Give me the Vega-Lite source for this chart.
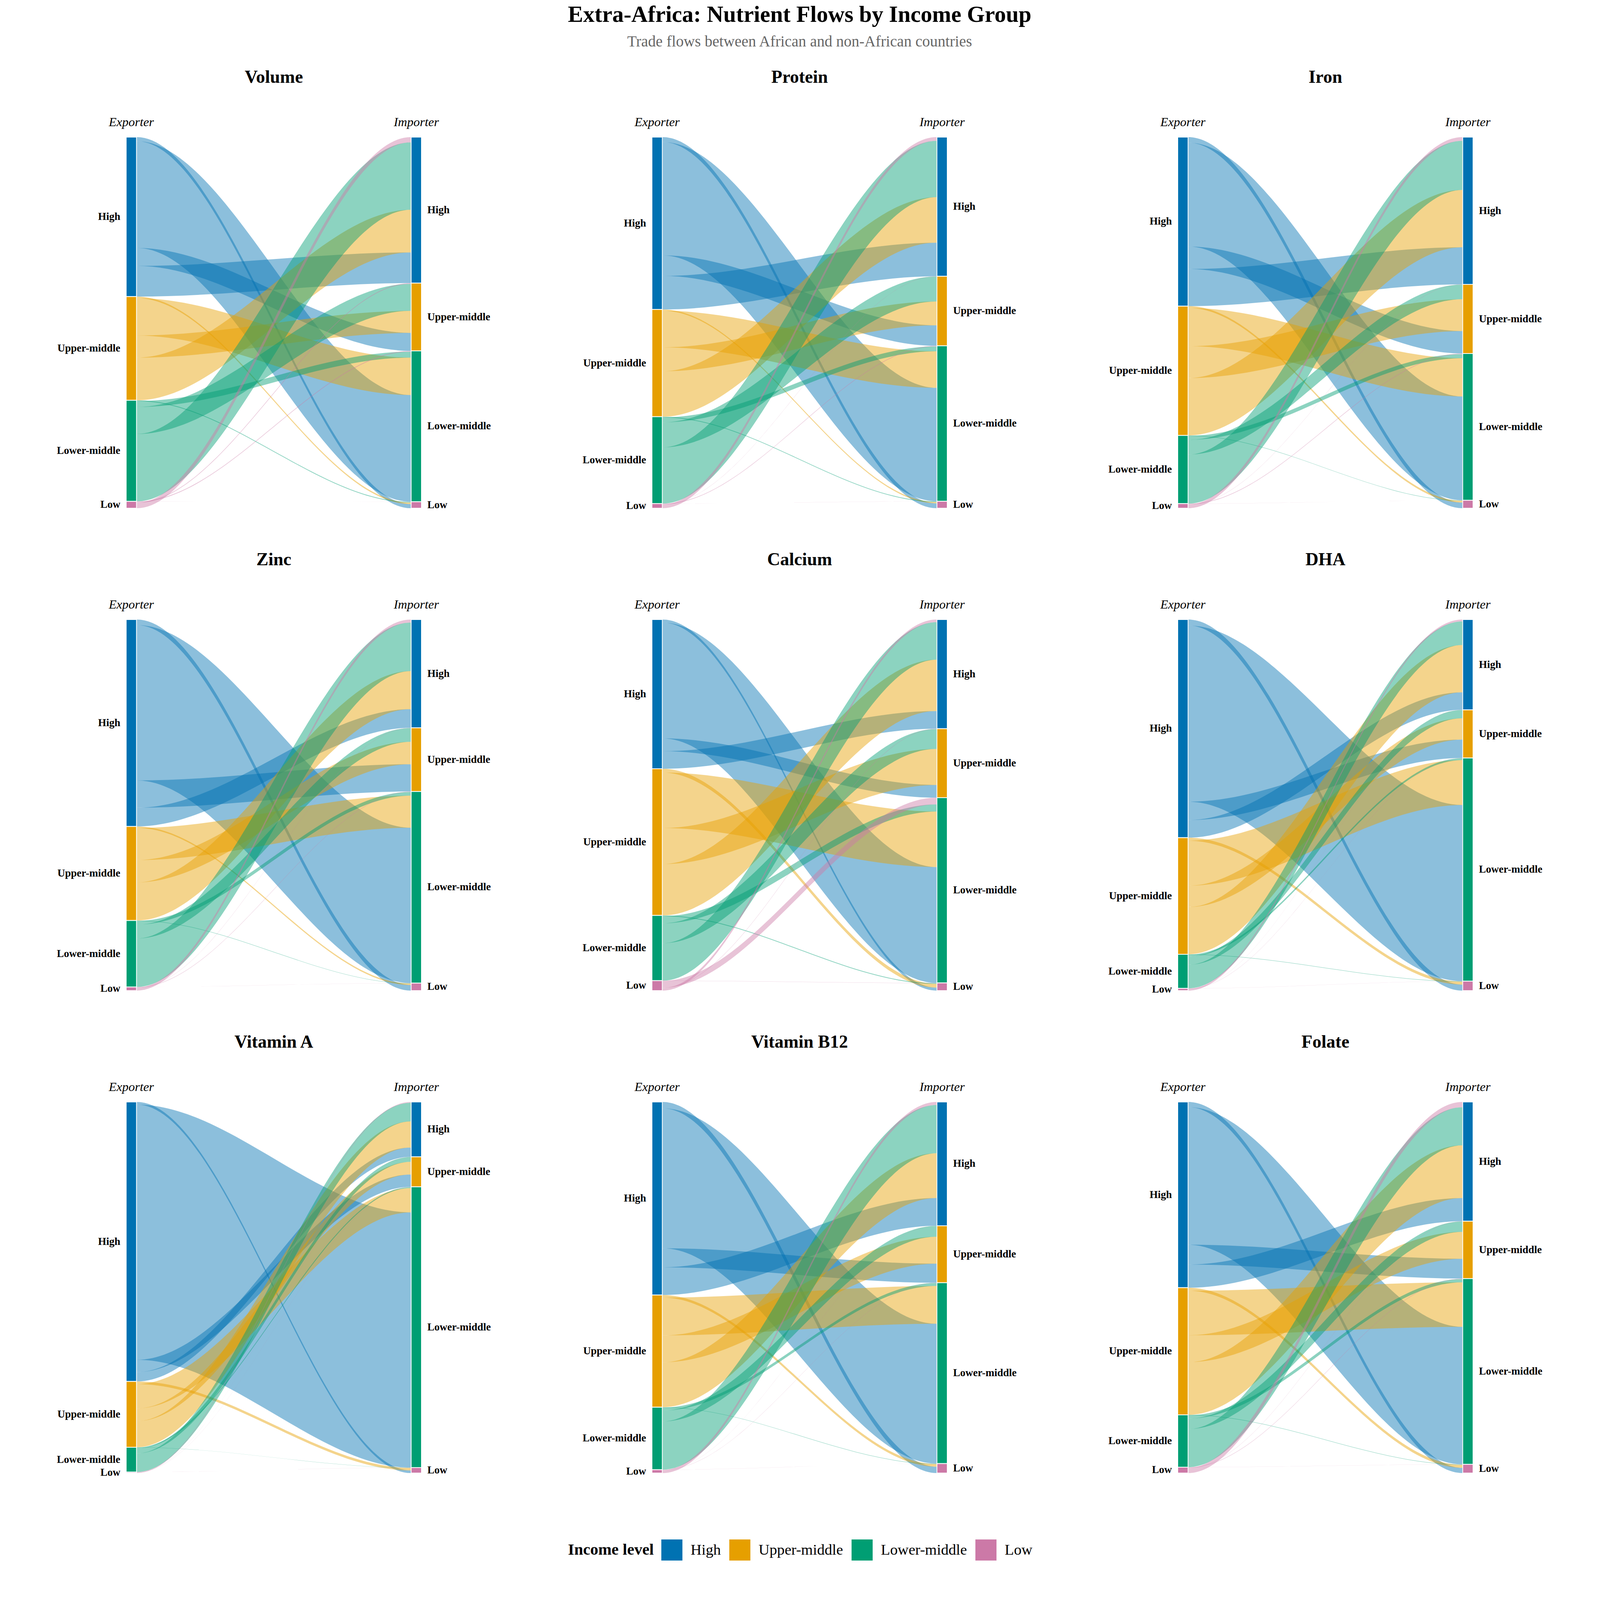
{
  "$schema": "https://vega.github.io/schema/vega-lite/v6.json",
  "description": "Extra-Africa nutrient flows by income group, alluvial panels",
  "padding": {"left": 145, "top": 9, "right": 20, "bottom": 20},
  "title": {
    "text": "Extra-Africa: Nutrient Flows by Income Group",
    "subtitle": "Trade flows between African and non-African countries",
    "anchor": "middle",
    "font": "Liberation Serif",
    "fontSize": 58.5,
    "fontWeight": "bold",
    "color": "black",
    "subtitleFont": "Liberation Serif",
    "subtitleFontSize": 39.5,
    "subtitleColor": "#666666",
    "subtitlePadding": 19,
    "offset": 48
  },
  "config": {
    "view": {"stroke": null},
    "font": "Liberation Serif"
  },
  "data": {
    "values": [
      {"n": "Volume", "e": "High", "i": "High", "v": 8.2},
      {"n": "Volume", "e": "High", "i": "Upper-middle", "v": 4.8},
      {"n": "Volume", "e": "High", "i": "Lower-middle", "v": 28.5},
      {"n": "Volume", "e": "High", "i": "Low", "v": 1.1},
      {"n": "Volume", "e": "Upper-middle", "i": "High", "v": 11.4},
      {"n": "Volume", "e": "Upper-middle", "i": "Upper-middle", "v": 5.9},
      {"n": "Volume", "e": "Upper-middle", "i": "Lower-middle", "v": 10.0},
      {"n": "Volume", "e": "Upper-middle", "i": "Low", "v": 0.4},
      {"n": "Volume", "e": "Lower-middle", "i": "High", "v": 18.0},
      {"n": "Volume", "e": "Lower-middle", "i": "Upper-middle", "v": 7.2},
      {"n": "Volume", "e": "Lower-middle", "i": "Lower-middle", "v": 1.6},
      {"n": "Volume", "e": "Lower-middle", "i": "Low", "v": 0.2},
      {"n": "Volume", "e": "Low", "i": "High", "v": 1.4},
      {"n": "Volume", "e": "Low", "i": "Upper-middle", "v": 0.2},
      {"n": "Volume", "e": "Low", "i": "Lower-middle", "v": 0.2},
      {"n": "Volume", "e": "Low", "i": "Low", "v": 0.02},

      {"n": "Protein", "e": "High", "i": "High", "v": 9.0},
      {"n": "Protein", "e": "High", "i": "Upper-middle", "v": 5.5},
      {"n": "Protein", "e": "High", "i": "Lower-middle", "v": 30.4},
      {"n": "Protein", "e": "High", "i": "Low", "v": 1.3},
      {"n": "Protein", "e": "Upper-middle", "i": "High", "v": 12.2},
      {"n": "Protein", "e": "Upper-middle", "i": "Upper-middle", "v": 6.4},
      {"n": "Protein", "e": "Upper-middle", "i": "Lower-middle", "v": 9.8},
      {"n": "Protein", "e": "Upper-middle", "i": "Low", "v": 0.35},
      {"n": "Protein", "e": "Lower-middle", "i": "High", "v": 15.1},
      {"n": "Protein", "e": "Lower-middle", "i": "Upper-middle", "v": 6.7},
      {"n": "Protein", "e": "Lower-middle", "i": "Lower-middle", "v": 1.3},
      {"n": "Protein", "e": "Lower-middle", "i": "Low", "v": 0.2},
      {"n": "Protein", "e": "Low", "i": "High", "v": 1.0},
      {"n": "Protein", "e": "Low", "i": "Upper-middle", "v": 0.05},
      {"n": "Protein", "e": "Low", "i": "Lower-middle", "v": 0.15},
      {"n": "Protein", "e": "Low", "i": "Low", "v": 0.02},

      {"n": "Iron", "e": "High", "i": "High", "v": 9.9},
      {"n": "Iron", "e": "High", "i": "Upper-middle", "v": 6.0},
      {"n": "Iron", "e": "High", "i": "Lower-middle", "v": 27.7},
      {"n": "Iron", "e": "High", "i": "Low", "v": 1.5},
      {"n": "Iron", "e": "Upper-middle", "i": "High", "v": 15.3},
      {"n": "Iron", "e": "Upper-middle", "i": "Upper-middle", "v": 8.5},
      {"n": "Iron", "e": "Upper-middle", "i": "Lower-middle", "v": 10.2},
      {"n": "Iron", "e": "Upper-middle", "i": "Low", "v": 0.5},
      {"n": "Iron", "e": "Lower-middle", "i": "High", "v": 13.1},
      {"n": "Iron", "e": "Lower-middle", "i": "Upper-middle", "v": 3.9},
      {"n": "Iron", "e": "Lower-middle", "i": "Lower-middle", "v": 1.1},
      {"n": "Iron", "e": "Lower-middle", "i": "Low", "v": 0.1},
      {"n": "Iron", "e": "Low", "i": "High", "v": 1.0},
      {"n": "Iron", "e": "Low", "i": "Upper-middle", "v": 0.05},
      {"n": "Iron", "e": "Low", "i": "Lower-middle", "v": 0.15},
      {"n": "Iron", "e": "Low", "i": "Low", "v": 0.02},

      {"n": "Zinc", "e": "High", "i": "High", "v": 5.0},
      {"n": "Zinc", "e": "High", "i": "Upper-middle", "v": 7.3},
      {"n": "Zinc", "e": "High", "i": "Lower-middle", "v": 41.6},
      {"n": "Zinc", "e": "High", "i": "Low", "v": 1.5},
      {"n": "Zinc", "e": "Upper-middle", "i": "High", "v": 10.2},
      {"n": "Zinc", "e": "Upper-middle", "i": "Upper-middle", "v": 6.0},
      {"n": "Zinc", "e": "Upper-middle", "i": "Lower-middle", "v": 8.6},
      {"n": "Zinc", "e": "Upper-middle", "i": "Low", "v": 0.4},
      {"n": "Zinc", "e": "Lower-middle", "i": "High", "v": 13.0},
      {"n": "Zinc", "e": "Lower-middle", "i": "Upper-middle", "v": 3.7},
      {"n": "Zinc", "e": "Lower-middle", "i": "Lower-middle", "v": 1.0},
      {"n": "Zinc", "e": "Lower-middle", "i": "Low", "v": 0.1},
      {"n": "Zinc", "e": "Low", "i": "High", "v": 0.8},
      {"n": "Zinc", "e": "Low", "i": "Upper-middle", "v": 0.05},
      {"n": "Zinc", "e": "Low", "i": "Lower-middle", "v": 0.1},
      {"n": "Zinc", "e": "Low", "i": "Low", "v": 0.02},

      {"n": "Calcium", "e": "High", "i": "High", "v": 4.7},
      {"n": "Calcium", "e": "High", "i": "Upper-middle", "v": 3.4},
      {"n": "Calcium", "e": "High", "i": "Lower-middle", "v": 30.9},
      {"n": "Calcium", "e": "High", "i": "Low", "v": 0.8},
      {"n": "Calcium", "e": "Upper-middle", "i": "High", "v": 13.7},
      {"n": "Calcium", "e": "Upper-middle", "i": "Upper-middle", "v": 9.6},
      {"n": "Calcium", "e": "Upper-middle", "i": "Lower-middle", "v": 14.8},
      {"n": "Calcium", "e": "Upper-middle", "i": "Low", "v": 1.0},
      {"n": "Calcium", "e": "Lower-middle", "i": "High", "v": 10.0},
      {"n": "Calcium", "e": "Lower-middle", "i": "Upper-middle", "v": 5.3},
      {"n": "Calcium", "e": "Lower-middle", "i": "Lower-middle", "v": 1.9},
      {"n": "Calcium", "e": "Lower-middle", "i": "Low", "v": 0.2},
      {"n": "Calcium", "e": "Low", "i": "High", "v": 0.7},
      {"n": "Calcium", "e": "Low", "i": "Upper-middle", "v": 0.1},
      {"n": "Calcium", "e": "Low", "i": "Lower-middle", "v": 1.8},
      {"n": "Calcium", "e": "Low", "i": "Low", "v": 0.05},

      {"n": "DHA", "e": "High", "i": "High", "v": 4.7},
      {"n": "DHA", "e": "High", "i": "Upper-middle", "v": 4.9},
      {"n": "DHA", "e": "High", "i": "Lower-middle", "v": 47.0},
      {"n": "DHA", "e": "High", "i": "Low", "v": 1.6},
      {"n": "DHA", "e": "Upper-middle", "i": "High", "v": 12.6},
      {"n": "DHA", "e": "Upper-middle", "i": "Upper-middle", "v": 5.7},
      {"n": "DHA", "e": "Upper-middle", "i": "Lower-middle", "v": 12.0},
      {"n": "DHA", "e": "Upper-middle", "i": "Low", "v": 0.8},
      {"n": "DHA", "e": "Lower-middle", "i": "High", "v": 6.3},
      {"n": "DHA", "e": "Lower-middle", "i": "Upper-middle", "v": 2.2},
      {"n": "DHA", "e": "Lower-middle", "i": "Lower-middle", "v": 0.5},
      {"n": "DHA", "e": "Lower-middle", "i": "Low", "v": 0.1},
      {"n": "DHA", "e": "Low", "i": "High", "v": 0.5},
      {"n": "DHA", "e": "Low", "i": "Upper-middle", "v": 0.03},
      {"n": "DHA", "e": "Low", "i": "Lower-middle", "v": 0.05},
      {"n": "DHA", "e": "Low", "i": "Low", "v": 0.02},

      {"n": "Vitamin A", "e": "High", "i": "High", "v": 2.5},
      {"n": "Vitamin A", "e": "High", "i": "Upper-middle", "v": 3.3},
      {"n": "Vitamin A", "e": "High", "i": "Lower-middle", "v": 68.3},
      {"n": "Vitamin A", "e": "High", "i": "Low", "v": 0.7},
      {"n": "Vitamin A", "e": "Upper-middle", "i": "High", "v": 7.0},
      {"n": "Vitamin A", "e": "Upper-middle", "i": "Upper-middle", "v": 3.4},
      {"n": "Vitamin A", "e": "Upper-middle", "i": "Lower-middle", "v": 6.5},
      {"n": "Vitamin A", "e": "Upper-middle", "i": "Low", "v": 0.7},
      {"n": "Vitamin A", "e": "Lower-middle", "i": "High", "v": 5.0},
      {"n": "Vitamin A", "e": "Lower-middle", "i": "Upper-middle", "v": 1.3},
      {"n": "Vitamin A", "e": "Lower-middle", "i": "Lower-middle", "v": 0.3},
      {"n": "Vitamin A", "e": "Lower-middle", "i": "Low", "v": 0.05},
      {"n": "Vitamin A", "e": "Low", "i": "High", "v": 0.2},
      {"n": "Vitamin A", "e": "Low", "i": "Upper-middle", "v": 0.02},
      {"n": "Vitamin A", "e": "Low", "i": "Lower-middle", "v": 0.03},
      {"n": "Vitamin A", "e": "Low", "i": "Low", "v": 0.01},

      {"n": "Vitamin B12", "e": "High", "i": "High", "v": 7.4},
      {"n": "Vitamin B12", "e": "High", "i": "Upper-middle", "v": 5.1},
      {"n": "Vitamin B12", "e": "High", "i": "Lower-middle", "v": 37.4},
      {"n": "Vitamin B12", "e": "High", "i": "Low", "v": 1.7},
      {"n": "Vitamin B12", "e": "Upper-middle", "i": "High", "v": 12.0},
      {"n": "Vitamin B12", "e": "Upper-middle", "i": "Upper-middle", "v": 7.2},
      {"n": "Vitamin B12", "e": "Upper-middle", "i": "Lower-middle", "v": 10.1},
      {"n": "Vitamin B12", "e": "Upper-middle", "i": "Low", "v": 0.7},
      {"n": "Vitamin B12", "e": "Lower-middle", "i": "High", "v": 12.9},
      {"n": "Vitamin B12", "e": "Lower-middle", "i": "Upper-middle", "v": 2.9},
      {"n": "Vitamin B12", "e": "Lower-middle", "i": "Lower-middle", "v": 0.8},
      {"n": "Vitamin B12", "e": "Lower-middle", "i": "Low", "v": 0.1},
      {"n": "Vitamin B12", "e": "Low", "i": "High", "v": 0.8},
      {"n": "Vitamin B12", "e": "Low", "i": "Upper-middle", "v": 0.03},
      {"n": "Vitamin B12", "e": "Low", "i": "Lower-middle", "v": 0.05},
      {"n": "Vitamin B12", "e": "Low", "i": "Low", "v": 0.02},

      {"n": "Folate", "e": "High", "i": "High", "v": 6.2},
      {"n": "Folate", "e": "High", "i": "Upper-middle", "v": 5.3},
      {"n": "Folate", "e": "High", "i": "Lower-middle", "v": 36.8},
      {"n": "Folate", "e": "High", "i": "Low", "v": 1.4},
      {"n": "Folate", "e": "Upper-middle", "i": "High", "v": 14.1},
      {"n": "Folate", "e": "Upper-middle", "i": "Upper-middle", "v": 7.2},
      {"n": "Folate", "e": "Upper-middle", "i": "Lower-middle", "v": 11.9},
      {"n": "Folate", "e": "Upper-middle", "i": "Low", "v": 0.8},
      {"n": "Folate", "e": "Lower-middle", "i": "High", "v": 10.2},
      {"n": "Folate", "e": "Lower-middle", "i": "Upper-middle", "v": 2.8},
      {"n": "Folate", "e": "Lower-middle", "i": "Lower-middle", "v": 0.9},
      {"n": "Folate", "e": "Lower-middle", "i": "Low", "v": 0.1},
      {"n": "Folate", "e": "Low", "i": "High", "v": 1.4},
      {"n": "Folate", "e": "Low", "i": "Upper-middle", "v": 0.05},
      {"n": "Folate", "e": "Low", "i": "Lower-middle", "v": 0.1},
      {"n": "Folate", "e": "Low", "i": "Low", "v": 0.02}
    ]
  },
  "transform": [
    {"joinaggregate": [{"op": "sum", "field": "v", "as": "tot"}], "groupby": ["n"]},
    {"calculate": "datum.v / datum.tot * 100", "as": "p"},
    {"calculate": "indexof(['High','Upper-middle','Lower-middle','Low'], datum.e)", "as": "eo"},
    {"calculate": "indexof(['High','Upper-middle','Lower-middle','Low'], datum.i)", "as": "io"},
    {
      "window": [{"op": "sum", "field": "p", "as": "ec"}],
      "groupby": ["n"],
      "sort": [{"field": "eo", "order": "ascending"}, {"field": "io", "order": "descending"}],
      "frame": [null, 0]
    },
    {
      "window": [{"op": "sum", "field": "p", "as": "ic"}],
      "groupby": ["n"],
      "sort": [{"field": "io", "order": "ascending"}, {"field": "eo", "order": "descending"}],
      "frame": [null, 0]
    },
    {"calculate": "datum.ec - datum.p", "as": "e0"},
    {"calculate": "datum.ic - datum.p", "as": "i0"}
  ],
  "spacing": {"column": 234, "row": 97},
  "columns": 3,
  "facet": {
    "field": "n",
    "type": "nominal",
    "sort": ["Volume", "Protein", "Iron", "Zinc", "Calcium", "DHA", "Vitamin A", "Vitamin B12", "Folate"],
    "title": null,
    "header": {
      "labelFont": "Liberation Serif",
      "labelFontSize": 46,
      "labelFontWeight": "bold",
      "labelColor": "black",
      "labelPadding": 39,
      "labelBaseline": "alphabetic"
    }
  },
  "spec": {
    "width": 756,
    "height": 950,
    "layer": [
      {
        "transform": [
          {"calculate": "[0.035, 0.036, 0.964, 0.965]", "as": "xs"},
          {"flatten": ["xs"]},
          {"calculate": "datum.xs < 0.5 ? datum.e0 : datum.i0", "as": "yt"},
          {"calculate": "datum.xs < 0.5 ? datum.ec : datum.ic", "as": "yb"},
          {"calculate": "datum.e + '|' + datum.i", "as": "fid"}
        ],
        "mark": {"type": "area", "interpolate": "monotone", "orient": "vertical", "fillOpacity": 0.45},
        "encoding": {
          "x": {"field": "xs", "type": "quantitative", "scale": {"domain": [0, 1], "nice": false, "zero": false}, "axis": null},
          "y": {"field": "yt", "type": "quantitative", "scale": {"domain": [0, 100], "reverse": true, "nice": false, "zero": false}, "axis": null},
          "y2": {"field": "yb"},
          "fill": {
            "field": "e",
            "type": "nominal",
            "title": "Income level",
            "scale": {"domain": ["High", "Upper-middle", "Lower-middle", "Low"], "range": ["#0072B2", "#E69F00", "#009E73", "#CC79A7"]},
            "legend": {
              "orient": "none",
              "legendX": 1131,
              "legendY": 3590,
              "direction": "horizontal",
              "titleOrient": "left",
              "titleAnchor": "middle",
              "titleBaseline": "middle",
              "titlePadding": 19,
              "titleLimit": 1000,
              "titleFont": "Liberation Serif",
              "titleFontSize": 41,
              "titleFontWeight": "bold",
              "titleColor": "black",
              "labelFont": "Liberation Serif",
              "labelFontSize": 38.7,
              "labelColor": "black",
              "labelLimit": 1000,
              "labelOffset": 21,
              "columnPadding": 21,
              "symbolType": "square",
              "symbolSize": 2916,
              "symbolStrokeWidth": 0,
              "symbolOpacity": 1
            }
          },
          "detail": {"field": "fid"}
        }
      },
      {
        "transform": [
          {"aggregate": [{"op": "min", "field": "e0", "as": "b0"}, {"op": "max", "field": "ec", "as": "b1"}], "groupby": ["n", "e"]}
        ],
        "mark": {"type": "rect", "stroke": "white", "strokeWidth": 2},
        "encoding": {
          "x": {"datum": 0},
          "x2": {"datum": 0.035},
          "y": {"field": "b0", "type": "quantitative"},
          "y2": {"field": "b1"},
          "color": {
            "field": "e",
            "type": "nominal",
            "scale": {"domain": ["High", "Upper-middle", "Lower-middle", "Low"], "range": ["#0072B2", "#E69F00", "#009E73", "#CC79A7"]},
            "legend": null
          }
        }
      },
      {
        "transform": [
          {"aggregate": [{"op": "min", "field": "i0", "as": "b0"}, {"op": "max", "field": "ic", "as": "b1"}], "groupby": ["n", "i"]}
        ],
        "mark": {"type": "rect", "stroke": "white", "strokeWidth": 2},
        "encoding": {
          "x": {"datum": 0.965},
          "x2": {"datum": 1},
          "y": {"field": "b0", "type": "quantitative"},
          "y2": {"field": "b1"},
          "color": {"field": "i", "type": "nominal", "legend": null}
        }
      },
      {
        "transform": [
          {"aggregate": [{"op": "min", "field": "e0", "as": "b0"}, {"op": "max", "field": "ec", "as": "b1"}], "groupby": ["n", "e"]},
          {"calculate": "(datum.b0 + datum.b1) / 2", "as": "m"}
        ],
        "mark": {"type": "text", "align": "right", "baseline": "middle", "dx": -15, "font": "Liberation Serif", "fontWeight": "bold", "fontSize": 27, "color": "black"},
        "encoding": {
          "x": {"datum": 0},
          "y": {"field": "m", "type": "quantitative"},
          "text": {"field": "e"}
        }
      },
      {
        "transform": [
          {"aggregate": [{"op": "min", "field": "i0", "as": "b0"}, {"op": "max", "field": "ic", "as": "b1"}], "groupby": ["n", "i"]},
          {"calculate": "(datum.b0 + datum.b1) / 2", "as": "m"}
        ],
        "mark": {"type": "text", "align": "left", "baseline": "middle", "dx": 15, "font": "Liberation Serif", "fontWeight": "bold", "fontSize": 27, "color": "black"},
        "encoding": {
          "x": {"datum": 1},
          "y": {"field": "m", "type": "quantitative"},
          "text": {"field": "i"}
        }
      },
      {
        "transform": [{"aggregate": [{"op": "count", "as": "c"}], "groupby": ["n"]}],
        "mark": {"type": "text", "text": "Exporter", "align": "center", "baseline": "alphabetic", "dy": -28, "font": "Liberation Serif", "fontStyle": "italic", "fontSize": 32.5, "color": "black"},
        "encoding": {
          "x": {"datum": 0.0175},
          "y": {"datum": 0}
        }
      },
      {
        "transform": [{"aggregate": [{"op": "count", "as": "c"}], "groupby": ["n"]}],
        "mark": {"type": "text", "text": "Importer", "align": "center", "baseline": "alphabetic", "dy": -28, "font": "Liberation Serif", "fontStyle": "italic", "fontSize": 32.5, "color": "black"},
        "encoding": {
          "x": {"datum": 0.9825},
          "y": {"datum": 0}
        }
      }
    ]
  }
}
